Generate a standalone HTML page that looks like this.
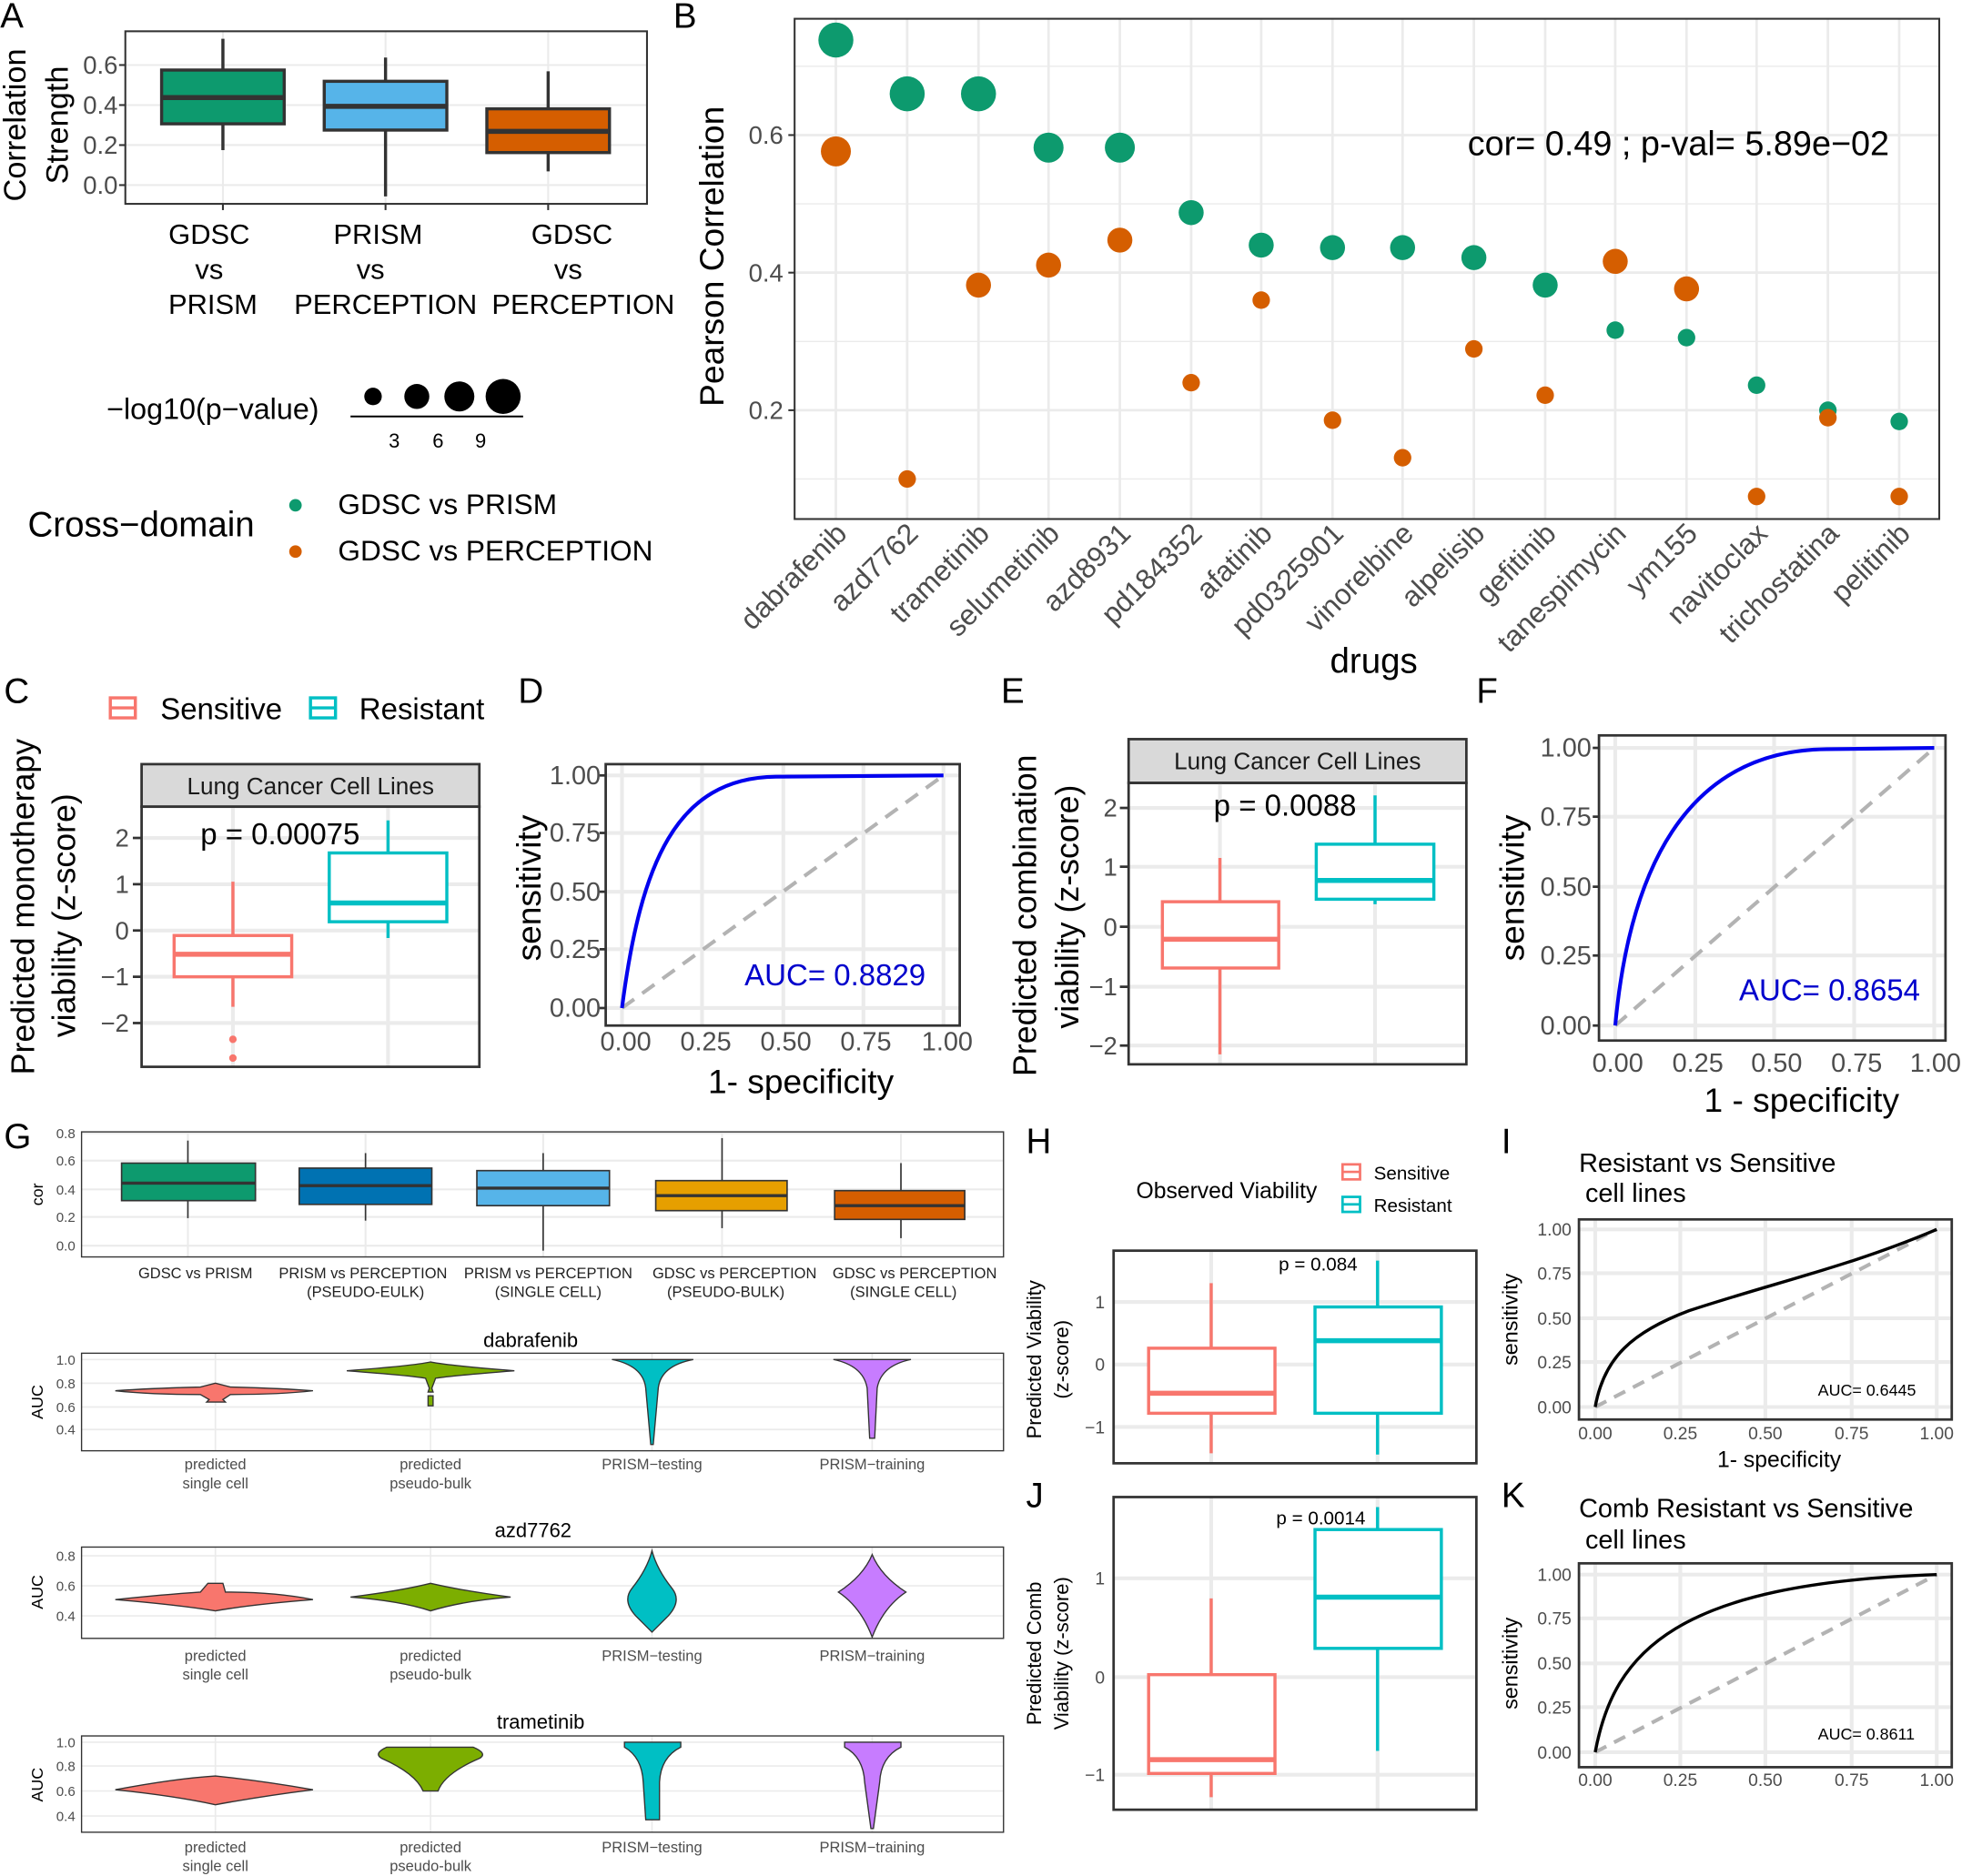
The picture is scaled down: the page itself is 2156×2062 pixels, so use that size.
<!DOCTYPE html>
<html><head><meta charset="utf-8"><style>
html,body{margin:0;padding:0;background:#fff}
svg{display:block}
text{font-family:"Liberation Sans",sans-serif}
</style></head><body>
<svg width="2156" height="2062" viewBox="0 0 1568 1500" xmlns="http://www.w3.org/2000/svg">
<rect width="1568" height="1500" fill="#fff"/>
<!-- Letters -->
<g font-size="28" fill="#000">
<text x="0" y="22">A</text><text x="538" y="22">B</text><text x="3" y="562">C</text><text x="414" y="562">D</text>
<text x="800" y="562">E</text><text x="1180" y="562">F</text><text x="3" y="918">G</text><text x="820" y="922">H</text>
<text x="1200" y="922">I</text><text x="820" y="1205">J</text><text x="1200" y="1205">K</text>
</g>

<!-- Panel A -->
<g stroke="#ebebeb" stroke-width="1.5"><line x1="100" x2="517" y1="52" y2="52"/><line x1="100" x2="517" y1="84" y2="84"/><line x1="100" x2="517" y1="116" y2="116"/><line x1="100" x2="517" y1="148" y2="148"/>
<line x1="178" x2="178" y1="25" y2="163"/><line x1="308" x2="308" y1="25" y2="163"/><line x1="438" x2="438" y1="25" y2="163"/></g>
<g stroke="#333" stroke-width="2.5">
<line x1="178" x2="178" y1="31" y2="120"/><rect x="129" y="56" width="98" height="43" fill="#0D9A6E"/><line x1="129" x2="227" y1="78" y2="78" stroke-width="4"/>
<line x1="308" x2="308" y1="46" y2="157"/><rect x="259" y="65" width="98" height="39" fill="#56B4E9"/><line x1="259" x2="357" y1="85" y2="85" stroke-width="4"/>
<line x1="438" x2="438" y1="57" y2="137"/><rect x="389" y="87" width="98" height="35" fill="#D55E00"/><line x1="389" x2="487" y1="105" y2="105" stroke-width="4"/>
</g>
<rect x="100" y="25" width="417" height="138" fill="none" stroke="#333" stroke-width="1.5"/>
<g stroke="#333" stroke-width="1.5"><line x1="95" x2="100" y1="52" y2="52"/><line x1="95" x2="100" y1="84" y2="84"/><line x1="95" x2="100" y1="116" y2="116"/><line x1="95" x2="100" y1="148" y2="148"/><line x1="178" x2="178" y1="163" y2="168"/><line x1="308" x2="308" y1="163" y2="168"/><line x1="438" x2="438" y1="163" y2="168"/></g>
<g font-size="20" fill="#4d4d4d" text-anchor="end"><text x="94" y="59">0.6</text><text x="94" y="91">0.4</text><text x="94" y="123">0.2</text><text x="94" y="155">0.0</text></g>
<g font-size="22.5" text-anchor="middle"><text x="167" y="195">GDSC</text><text x="167" y="223">vs</text><text x="170" y="251">PRISM</text>
<text x="302" y="195">PRISM</text><text x="296" y="223">vs</text><text x="308" y="251">PERCEPTION</text>
<text x="457" y="195">GDSC</text><text x="454" y="223">vs</text><text x="466" y="251">PERCEPTION</text></g>
<g font-size="25" text-anchor="middle"><text transform="translate(20,100) rotate(-90)">Correlation</text><text transform="translate(54,100) rotate(-90)">Strength</text></g>
<text x="85" y="335" font-size="23.5">−log10(p−value)</text>
<g fill="#000"><circle cx="298" cy="317" r="7"/><circle cx="333" cy="317" r="10"/><circle cx="367" cy="317" r="12"/><circle cx="402" cy="317" r="14"/></g>
<line x1="280" x2="418" y1="333" y2="333" stroke="#000" stroke-width="1.5"/>
<g font-size="16" text-anchor="middle"><text x="315" y="358">3</text><text x="350" y="358">6</text><text x="384" y="358">9</text></g>
<text x="22" y="429" font-size="28">Cross−domain</text>
<circle cx="236" cy="404" r="5" fill="#0D9A6E"/><circle cx="236" cy="441" r="5" fill="#D55E00"/>
<text x="270" y="411" font-size="23">GDSC vs PRISM</text><text x="270" y="448" font-size="23">GDSC vs PERCEPTION</text>

<!-- Panel B -->
<g stroke="#ebebeb" stroke-width="2">
<line x1="635" x2="1550" y1="108" y2="108"/><line x1="635" x2="1550" y1="218" y2="218"/><line x1="635" x2="1550" y1="328" y2="328"/>
<line x1="635" x2="1550" y1="53" y2="53" stroke-width="1"/><line x1="635" x2="1550" y1="163" y2="163" stroke-width="1"/><line x1="635" x2="1550" y1="273" y2="273" stroke-width="1"/><line x1="635" x2="1550" y1="383" y2="383" stroke-width="1"/>
<line x1="668" x2="668" y1="15" y2="415"/><line x1="725" x2="725" y1="15" y2="415"/><line x1="782" x2="782" y1="15" y2="415"/><line x1="838" x2="838" y1="15" y2="415"/><line x1="895" x2="895" y1="15" y2="415"/><line x1="952" x2="952" y1="15" y2="415"/><line x1="1008" x2="1008" y1="15" y2="415"/><line x1="1065" x2="1065" y1="15" y2="415"/><line x1="1121" x2="1121" y1="15" y2="415"/><line x1="1178" x2="1178" y1="15" y2="415"/><line x1="1235" x2="1235" y1="15" y2="415"/><line x1="1291" x2="1291" y1="15" y2="415"/><line x1="1348" x2="1348" y1="15" y2="415"/><line x1="1404" x2="1404" y1="15" y2="415"/><line x1="1461" x2="1461" y1="15" y2="415"/><line x1="1518" x2="1518" y1="15" y2="415"/>
</g>
<rect x="635" y="15" width="915" height="400" fill="none" stroke="#333" stroke-width="1.5"/>
<g stroke="#333" stroke-width="1.5"><line x1="630" x2="635" y1="108" y2="108"/><line x1="630" x2="635" y1="218" y2="218"/><line x1="630" x2="635" y1="328" y2="328"/></g>
<g fill="#0D9A6E">
<circle cx="668" cy="32" r="14"/><circle cx="725" cy="75" r="14"/><circle cx="782" cy="75" r="14"/><circle cx="838" cy="118" r="12"/><circle cx="895" cy="118" r="12"/><circle cx="952" cy="170" r="10"/><circle cx="1008" cy="196" r="10"/><circle cx="1065" cy="198" r="10"/><circle cx="1121" cy="198" r="10"/><circle cx="1178" cy="206" r="10"/><circle cx="1235" cy="228" r="10"/><circle cx="1291" cy="264" r="7"/><circle cx="1348" cy="270" r="7"/><circle cx="1404" cy="308" r="7"/><circle cx="1461" cy="328" r="7"/><circle cx="1518" cy="337" r="7"/></g>
<g fill="#D55E00">
<circle cx="668" cy="121" r="12"/><circle cx="725" cy="383" r="7"/><circle cx="782" cy="228" r="10"/><circle cx="838" cy="212" r="10"/><circle cx="895" cy="192" r="10"/><circle cx="952" cy="306" r="7"/><circle cx="1008" cy="240" r="7"/><circle cx="1065" cy="336" r="7"/><circle cx="1121" cy="366" r="7"/><circle cx="1178" cy="279" r="7"/><circle cx="1235" cy="316" r="7"/><circle cx="1291" cy="209" r="10"/><circle cx="1348" cy="231" r="10"/><circle cx="1404" cy="397" r="7"/><circle cx="1461" cy="334" r="7"/><circle cx="1518" cy="397" r="7"/></g>
<g font-size="20" fill="#4d4d4d" text-anchor="end"><text x="626" y="115">0.6</text><text x="626" y="225">0.4</text><text x="626" y="335">0.2</text></g>
<text x="1173" y="124" font-size="27.5">cor= 0.49 ; p-val= 5.89e−02</text>
<text transform="translate(578,205) rotate(-90)" font-size="27" text-anchor="middle">Pearson Correlation</text>
<g font-size="23" fill="#4d4d4d" text-anchor="end">
<text transform="translate(678,428) rotate(-45)">dabrafenib</text><text transform="translate(735,428) rotate(-45)">azd7762</text><text transform="translate(792,428) rotate(-45)">trametinib</text><text transform="translate(848,428) rotate(-45)">selumetinib</text><text transform="translate(905,428) rotate(-45)">azd8931</text><text transform="translate(962,428) rotate(-45)">pd184352</text><text transform="translate(1018,428) rotate(-45)">afatinib</text><text transform="translate(1075,428) rotate(-45)">pd0325901</text><text transform="translate(1131,428) rotate(-45)">vinorelbine</text><text transform="translate(1188,428) rotate(-45)">alpelisib</text><text transform="translate(1245,428) rotate(-45)">gefitinib</text><text transform="translate(1301,428) rotate(-45)">tanespimycin</text><text transform="translate(1358,428) rotate(-45)">ym155</text><text transform="translate(1414,428) rotate(-45)">navitoclax</text><text transform="translate(1471,428) rotate(-45)">trichostatina</text><text transform="translate(1528,428) rotate(-45)">pelitinib</text></g>
<text x="1098" y="538" font-size="28" text-anchor="middle">drugs</text>

<!-- Panel C -->
<rect x="88" y="558" width="20" height="16" fill="none" stroke="#F8766D" stroke-width="2.5"/><line x1="88" x2="108" y1="566" y2="566" stroke="#F8766D" stroke-width="2.5"/>
<text x="128" y="575" font-size="24">Sensitive</text>
<rect x="248" y="558" width="20" height="16" fill="none" stroke="#00BFC4" stroke-width="2.5"/><line x1="248" x2="268" y1="566" y2="566" stroke="#00BFC4" stroke-width="2.5"/>
<text x="287" y="575" font-size="24">Resistant</text>
<rect x="113" y="611" width="270" height="34" fill="#d9d9d9" stroke="#333" stroke-width="2"/>
<text x="248" y="635" font-size="19" text-anchor="middle" fill="#1a1a1a">Lung Cancer Cell Lines</text>
<g stroke="#ebebeb" stroke-width="3"><line x1="113" x2="383" y1="670" y2="670"/><line x1="113" x2="383" y1="707" y2="707"/><line x1="113" x2="383" y1="744" y2="744"/><line x1="113" x2="383" y1="781" y2="781"/><line x1="113" x2="383" y1="818" y2="818"/><line x1="186" x2="186" y1="645" y2="853"/><line x1="310" x2="310" y1="645" y2="853"/></g>
<g stroke="#F8766D" stroke-width="2.5"><line x1="186" x2="186" y1="705" y2="805"/><rect x="139" y="748" width="94" height="33" fill="#fff"/><line x1="139" x2="233" y1="763" y2="763" stroke-width="4"/></g>
<circle cx="186" cy="831" r="3" fill="#F8766D"/><circle cx="186" cy="846" r="3" fill="#F8766D"/>
<g stroke="#00BFC4" stroke-width="2.5"><line x1="310" x2="310" y1="656" y2="750"/><rect x="263" y="682" width="94" height="55" fill="#fff"/><line x1="263" x2="357" y1="722" y2="722" stroke-width="4"/></g>
<rect x="113" y="645" width="270" height="208" fill="none" stroke="#333" stroke-width="2"/>
<g stroke="#333" stroke-width="2"><line x1="106" x2="113" y1="670" y2="670"/><line x1="106" x2="113" y1="707" y2="707"/><line x1="106" x2="113" y1="744" y2="744"/><line x1="106" x2="113" y1="781" y2="781"/><line x1="106" x2="113" y1="818" y2="818"/></g>
<text x="160" y="675" font-size="24">p = 0.00075</text>
<g font-size="20" fill="#4d4d4d" text-anchor="end"><text x="103" y="677">2</text><text x="103" y="714">1</text><text x="103" y="751">0</text><text x="103" y="788">−1</text><text x="103" y="825">−2</text></g>
<g font-size="26" text-anchor="middle"><text transform="translate(27,725) rotate(-90)">Predicted monotherapy</text><text transform="translate(60,732) rotate(-90)">viability (z-score)</text></g>

<!-- Panel D -->
<g stroke="#ebebeb" stroke-width="3"><line x1="484" x2="767" y1="620" y2="620"/><line x1="484" x2="767" y1="666" y2="666"/><line x1="484" x2="767" y1="713" y2="713"/><line x1="484" x2="767" y1="759" y2="759"/><line x1="484" x2="767" y1="806" y2="806"/>
<line x1="497" x2="497" y1="611" y2="820"/><line x1="561" x2="561" y1="611" y2="820"/><line x1="626" x2="626" y1="611" y2="820"/><line x1="690" x2="690" y1="611" y2="820"/><line x1="754" x2="754" y1="611" y2="820"/></g>
<line x1="497" y1="806" x2="754" y2="620" stroke="#b3b3b3" stroke-width="3" stroke-dasharray="12,8"/>
<path d="M497,806 C512,690 540,622 620,621 L754,620" fill="none" stroke="#0000ee" stroke-width="3"/>
<rect x="484" y="611" width="283" height="209" fill="none" stroke="#333" stroke-width="2"/>
<g stroke="#333" stroke-width="2"><line x1="479" x2="484" y1="620" y2="620"/><line x1="479" x2="484" y1="666" y2="666"/><line x1="479" x2="484" y1="713" y2="713"/><line x1="479" x2="484" y1="759" y2="759"/><line x1="479" x2="484" y1="806" y2="806"/></g>
<text x="595" y="788" font-size="24" fill="#0000cc">AUC= 0.8829</text>
<g font-size="21" fill="#4d4d4d" text-anchor="end"><text x="480" y="627">1.00</text><text x="480" y="673">0.75</text><text x="480" y="720">0.50</text><text x="480" y="766">0.25</text><text x="480" y="813">0.00</text></g>
<g font-size="21" fill="#4d4d4d" text-anchor="middle"><text x="500" y="840">0.00</text><text x="564" y="840">0.25</text><text x="628" y="840">0.50</text><text x="692" y="840">0.75</text><text x="757" y="840">1.00</text></g>
<text x="640" y="874" font-size="27" text-anchor="middle">1- specificity</text>
<text transform="translate(432,710) rotate(-90)" font-size="27" text-anchor="middle">sensitivity</text>

<!-- Panel E -->
<rect x="902" y="591" width="270" height="35" fill="#d9d9d9" stroke="#333" stroke-width="2"/>
<text x="1037" y="615" font-size="19" text-anchor="middle" fill="#1a1a1a">Lung Cancer Cell Lines</text>
<g stroke="#ebebeb" stroke-width="3"><line x1="902" x2="1172" y1="646" y2="646"/><line x1="902" x2="1172" y1="693" y2="693"/><line x1="902" x2="1172" y1="741" y2="741"/><line x1="902" x2="1172" y1="789" y2="789"/><line x1="902" x2="1172" y1="836" y2="836"/><line x1="975" x2="975" y1="626" y2="851"/><line x1="1099" x2="1099" y1="626" y2="851"/></g>
<g stroke="#F8766D" stroke-width="2.5"><line x1="975" x2="975" y1="686" y2="843"/><rect x="929" y="721" width="93" height="53" fill="#fff"/><line x1="929" x2="1022" y1="751" y2="751" stroke-width="4"/></g>
<g stroke="#00BFC4" stroke-width="2.5"><line x1="1099" x2="1099" y1="636" y2="723"/><rect x="1052" y="675" width="94" height="44" fill="#fff"/><line x1="1052" x2="1146" y1="704" y2="704" stroke-width="4"/></g>
<rect x="902" y="626" width="270" height="225" fill="none" stroke="#333" stroke-width="2"/>
<g stroke="#333" stroke-width="2"><line x1="895" x2="902" y1="646" y2="646"/><line x1="895" x2="902" y1="693" y2="693"/><line x1="895" x2="902" y1="741" y2="741"/><line x1="895" x2="902" y1="789" y2="789"/><line x1="895" x2="902" y1="836" y2="836"/></g>
<text x="970" y="652" font-size="24">p = 0.0088</text>
<g font-size="20" fill="#4d4d4d" text-anchor="end"><text x="893" y="653">2</text><text x="893" y="700">1</text><text x="893" y="748">0</text><text x="893" y="796">−1</text><text x="893" y="843">−2</text></g>
<g font-size="26" text-anchor="middle"><text transform="translate(828,732) rotate(-90)">Predicted combination</text><text transform="translate(862,725) rotate(-90)">viability (z-score)</text></g>

<!-- Panel F -->
<g stroke="#ebebeb" stroke-width="3"><line x1="1278" x2="1555" y1="598" y2="598"/><line x1="1278" x2="1555" y1="653" y2="653"/><line x1="1278" x2="1555" y1="709" y2="709"/><line x1="1278" x2="1555" y1="764" y2="764"/><line x1="1278" x2="1555" y1="820" y2="820"/>
<line x1="1291" x2="1291" y1="588" y2="832"/><line x1="1355" x2="1355" y1="588" y2="832"/><line x1="1418" x2="1418" y1="588" y2="832"/><line x1="1482" x2="1482" y1="588" y2="832"/><line x1="1546" x2="1546" y1="588" y2="832"/></g>
<line x1="1291" y1="820" x2="1546" y2="598" stroke="#b3b3b3" stroke-width="3" stroke-dasharray="12,8"/>
<path d="M1291,820 C1302,700 1345,600 1460,599 L1546,598" fill="none" stroke="#0000ee" stroke-width="3"/>
<rect x="1278" y="588" width="277" height="244" fill="none" stroke="#333" stroke-width="2"/>
<g stroke="#333" stroke-width="2"><line x1="1273" x2="1278" y1="598" y2="598"/><line x1="1273" x2="1278" y1="653" y2="653"/><line x1="1273" x2="1278" y1="709" y2="709"/><line x1="1273" x2="1278" y1="764" y2="764"/><line x1="1273" x2="1278" y1="820" y2="820"/></g>
<text x="1390" y="800" font-size="24" fill="#0000cc">AUC= 0.8654</text>
<g font-size="21" fill="#4d4d4d" text-anchor="end"><text x="1272" y="605">1.00</text><text x="1272" y="660">0.75</text><text x="1272" y="716">0.50</text><text x="1272" y="771">0.25</text><text x="1272" y="827">0.00</text></g>
<g font-size="21" fill="#4d4d4d" text-anchor="middle"><text x="1293" y="857">0.00</text><text x="1357" y="857">0.25</text><text x="1420" y="857">0.50</text><text x="1484" y="857">0.75</text><text x="1547" y="857">1.00</text></g>
<text x="1440" y="889" font-size="27" text-anchor="middle">1 - specificity</text>
<text transform="translate(1218,710) rotate(-90)" font-size="27" text-anchor="middle">sensitivity</text>

<!-- Panel G top -->
<g stroke="#ebebeb" stroke-width="1.5"><line x1="65" x2="802" y1="906" y2="906"/><line x1="65" x2="802" y1="928" y2="928"/><line x1="65" x2="802" y1="951" y2="951"/><line x1="65" x2="802" y1="973" y2="973"/><line x1="65" x2="802" y1="996" y2="996"/>
<line x1="150" x2="150" y1="905" y2="1005"/><line x1="292" x2="292" y1="905" y2="1005"/><line x1="434" x2="434" y1="905" y2="1005"/><line x1="577" x2="577" y1="905" y2="1005"/><line x1="720" x2="720" y1="905" y2="1005"/></g>
<g stroke="#333" stroke-width="1.2">
<line x1="150" x2="150" y1="912" y2="974"/><rect x="97" y="930" width="107" height="30" fill="#0D9A6E"/><line x1="97" x2="204" y1="946" y2="946" stroke-width="2.5"/>
<line x1="292" x2="292" y1="922" y2="976"/><rect x="239" y="934" width="106" height="29" fill="#0072B2"/><line x1="239" x2="345" y1="948" y2="948" stroke-width="2.5"/>
<line x1="434" x2="434" y1="922" y2="1000"/><rect x="381" y="936" width="106" height="28" fill="#56B4E9"/><line x1="381" x2="487" y1="950" y2="950" stroke-width="2.5"/>
<line x1="577" x2="577" y1="910" y2="982"/><rect x="524" y="944" width="105" height="24" fill="#E69F00"/><line x1="524" x2="629" y1="956" y2="956" stroke-width="2.5"/>
<line x1="720" x2="720" y1="930" y2="990"/><rect x="667" y="952" width="104" height="23" fill="#D55E00"/><line x1="667" x2="771" y1="964" y2="964" stroke-width="2.5"/></g>
<rect x="65" y="905" width="737" height="100" fill="none" stroke="#333" stroke-width="1"/>
<g font-size="11" fill="#4d4d4d" text-anchor="end"><text x="60" y="910">0.8</text><text x="60" y="932">0.6</text><text x="60" y="955">0.4</text><text x="60" y="977">0.2</text><text x="60" y="1000">0.0</text></g>
<text transform="translate(34,955) rotate(-90)" font-size="13" text-anchor="middle">cor</text>
<g font-size="12" text-anchor="middle" fill="#222"><text x="156" y="1022">GDSC vs PRISM</text>
<text x="290" y="1022">PRISM vs PERCEPTION</text><text x="292" y="1037">(PSEUDO-EULK)</text>
<text x="438" y="1022">PRISM vs PERCEPTION</text><text x="438" y="1037">(SINGLE CELL)</text>
<text x="587" y="1022">GDSC vs PERCEPTION</text><text x="580" y="1037">(PSEUDO-BULK)</text>
<text x="731" y="1022">GDSC vs PERCEPTION</text><text x="722" y="1037">(SINGLE CELL)</text></g>

<!-- Violin: dabrafenib -->
<text x="424" y="1077" font-size="16" text-anchor="middle">dabrafenib</text>
<g stroke="#ebebeb" stroke-width="1.2"><line x1="65" x2="802" y1="1087" y2="1087"/><line x1="65" x2="802" y1="1106" y2="1106"/><line x1="65" x2="802" y1="1125" y2="1125"/><line x1="65" x2="802" y1="1143" y2="1143"/><line x1="172" x2="172" y1="1082" y2="1160"/><line x1="344" x2="344" y1="1082" y2="1160"/><line x1="521" x2="521" y1="1082" y2="1160"/><line x1="697" x2="697" y1="1082" y2="1160"/></g>
<g stroke="#333" stroke-width="1">
<path d="M92,1112 Q120,1110 160,1109 L172,1106 L184,1109 Q224,1110 250,1112 Q224,1115 184,1115 L178,1119 L180,1121 L165,1121 L167,1119 L160,1115 Q120,1115 92,1112Z" fill="#F8766D"/>
<path d="M277,1096 Q330,1092 344,1089 Q360,1092 411,1096 Q360,1100 348,1102 L345,1110 L346,1113 L342,1113 L343,1110 L340,1102 Q330,1100 277,1096Z" fill="#7CAE00"/>
<path d="M342,1116 L346,1116 L346,1124 L342,1124Z" fill="#7CAE00"/>
<path d="M489,1087 L554,1087 Q528,1092 526,1110 L522,1155 L520,1155 L516,1110 Q514,1092 489,1087Z" fill="#00BFC4"/>
<path d="M666,1087 L728,1087 Q704,1092 701,1110 L699,1150 L695,1150 L693,1110 Q690,1092 666,1087Z" fill="#C77CFF"/></g>
<rect x="65" y="1082" width="737" height="78" fill="none" stroke="#333" stroke-width="1"/>
<g font-size="11" fill="#4d4d4d" text-anchor="end"><text x="60" y="1091">1.0</text><text x="60" y="1110">0.8</text><text x="60" y="1129">0.6</text><text x="60" y="1147">0.4</text></g>
<text transform="translate(34,1121) rotate(-90)" font-size="13" text-anchor="middle">AUC</text>
<g font-size="12" fill="#4d4d4d" text-anchor="middle"><text x="172" y="1175">predicted</text><text x="172" y="1190">single cell</text><text x="344" y="1175">predicted</text><text x="344" y="1190">pseudo-bulk</text><text x="521" y="1175">PRISM−testing</text><text x="697" y="1175">PRISM−training</text></g>

<!-- Violin: azd7762 -->
<text x="426" y="1229" font-size="16" text-anchor="middle">azd7762</text>
<g stroke="#ebebeb" stroke-width="1.2"><line x1="65" x2="802" y1="1244" y2="1244"/><line x1="65" x2="802" y1="1268" y2="1268"/><line x1="65" x2="802" y1="1292" y2="1292"/><line x1="172" x2="172" y1="1237" y2="1310"/><line x1="344" x2="344" y1="1237" y2="1310"/><line x1="521" x2="521" y1="1237" y2="1310"/><line x1="697" x2="697" y1="1237" y2="1310"/></g>
<g stroke="#333" stroke-width="1">
<path d="M92,1279 Q130,1275 160,1273 L166,1266 L178,1266 L180,1273 Q220,1273 250,1279 Q200,1283 172,1288 Q140,1283 92,1279Z" fill="#F8766D"/>
<path d="M280,1277 Q320,1272 344,1266 Q370,1272 408,1277 Q370,1280 344,1288 Q320,1280 280,1277Z" fill="#7CAE00"/>
<path d="M521,1240 Q517,1255 505,1270 Q497,1280 508,1292 Q516,1300 521,1305 Q526,1300 534,1292 Q545,1280 537,1270 Q525,1255 521,1240Z" fill="#00BFC4"/>
<path d="M697,1243 Q690,1260 670,1273 Q688,1285 697,1309 Q706,1285 724,1273 Q704,1260 697,1243Z" fill="#C77CFF"/></g>
<rect x="65" y="1237" width="737" height="73" fill="none" stroke="#333" stroke-width="1"/>
<g font-size="11" fill="#4d4d4d" text-anchor="end"><text x="60" y="1248">0.8</text><text x="60" y="1272">0.6</text><text x="60" y="1296">0.4</text></g>
<text transform="translate(34,1273) rotate(-90)" font-size="13" text-anchor="middle">AUC</text>
<g font-size="12" fill="#4d4d4d" text-anchor="middle"><text x="172" y="1328">predicted</text><text x="172" y="1343">single cell</text><text x="344" y="1328">predicted</text><text x="344" y="1343">pseudo-bulk</text><text x="521" y="1328">PRISM−testing</text><text x="697" y="1328">PRISM−training</text></g>

<!-- Violin: trametinib -->
<text x="432" y="1382" font-size="16" text-anchor="middle">trametinib</text>
<g stroke="#ebebeb" stroke-width="1.2"><line x1="65" x2="802" y1="1393" y2="1393"/><line x1="65" x2="802" y1="1412" y2="1412"/><line x1="65" x2="802" y1="1432" y2="1432"/><line x1="65" x2="802" y1="1452" y2="1452"/><line x1="172" x2="172" y1="1388" y2="1465"/><line x1="344" x2="344" y1="1388" y2="1465"/><line x1="521" x2="521" y1="1388" y2="1465"/><line x1="697" x2="697" y1="1388" y2="1465"/></g>
<g stroke="#333" stroke-width="1">
<path d="M92,1431 Q140,1422 172,1420 Q210,1424 250,1431 Q210,1436 172,1443 Q140,1436 92,1431Z" fill="#F8766D"/>
<path d="M309,1397 L378,1397 Q390,1402 383,1406 Q355,1418 350,1432 L338,1432 Q332,1418 305,1406 Q298,1402 309,1397Z" fill="#7CAE00"/>
<path d="M499,1393 L544,1393 L544,1397 Q528,1405 527,1425 L527,1455 L516,1455 L514,1425 Q513,1405 499,1397Z" fill="#00BFC4"/>
<path d="M675,1393 L720,1393 L720,1397 Q704,1405 703,1425 L698,1462 L696,1462 L691,1425 Q690,1405 675,1397Z" fill="#C77CFF"/></g>
<rect x="65" y="1388" width="737" height="77" fill="none" stroke="#333" stroke-width="1"/>
<g font-size="11" fill="#4d4d4d" text-anchor="end"><text x="60" y="1397">1.0</text><text x="60" y="1416">0.8</text><text x="60" y="1436">0.6</text><text x="60" y="1456">0.4</text></g>
<text transform="translate(34,1427) rotate(-90)" font-size="13" text-anchor="middle">AUC</text>
<g font-size="12" fill="#4d4d4d" text-anchor="middle"><text x="172" y="1481">predicted</text><text x="172" y="1496">single cell</text><text x="344" y="1481">predicted</text><text x="344" y="1496">pseudo-bulk</text><text x="521" y="1481">PRISM−testing</text><text x="697" y="1481">PRISM−training</text></g>

<!-- Panel H -->
<text x="908" y="958" font-size="18">Observed Viability</text>
<rect x="1073" y="931" width="14" height="12" fill="none" stroke="#F8766D" stroke-width="2"/><line x1="1073" x2="1087" y1="937" y2="937" stroke="#F8766D" stroke-width="2"/>
<rect x="1073" y="957" width="14" height="12" fill="none" stroke="#00BFC4" stroke-width="2"/><line x1="1073" x2="1087" y1="963" y2="963" stroke="#00BFC4" stroke-width="2"/>
<text x="1098" y="943" font-size="15">Sensitive</text><text x="1098" y="969" font-size="15">Resistant</text>
<g stroke="#ebebeb" stroke-width="3"><line x1="890" x2="1180" y1="1041" y2="1041"/><line x1="890" x2="1180" y1="1091" y2="1091"/><line x1="890" x2="1180" y1="1141" y2="1141"/><line x1="968" x2="968" y1="1000" y2="1170"/><line x1="1101" x2="1101" y1="1000" y2="1170"/></g>
<g stroke="#F8766D" stroke-width="2.5"><line x1="968" x2="968" y1="1026" y2="1162"/><rect x="918" y="1078" width="101" height="52" fill="#fff"/><line x1="918" x2="1019" y1="1114" y2="1114" stroke-width="4"/></g>
<g stroke="#00BFC4" stroke-width="2.5"><line x1="1101" x2="1101" y1="1008" y2="1163"/><rect x="1051" y="1045" width="101" height="85" fill="#fff"/><line x1="1051" x2="1152" y1="1072" y2="1072" stroke-width="4"/></g>
<rect x="890" y="1000" width="290" height="170" fill="none" stroke="#333" stroke-width="2"/>
<text x="1022" y="1016" font-size="15">p = 0.084</text>
<g font-size="14" fill="#4d4d4d" text-anchor="end"><text x="883" y="1046">1</text><text x="883" y="1096">0</text><text x="883" y="1146">−1</text></g>
<g font-size="16" text-anchor="middle"><text transform="translate(832,1087) rotate(-90)">Predicted Viability</text><text transform="translate(854,1087) rotate(-90)">(z-score)</text></g>

<!-- Panel J -->
<g stroke="#ebebeb" stroke-width="3"><line x1="890" x2="1180" y1="1262" y2="1262"/><line x1="890" x2="1180" y1="1341" y2="1341"/><line x1="890" x2="1180" y1="1419" y2="1419"/><line x1="968" x2="968" y1="1197" y2="1447"/><line x1="1101" x2="1101" y1="1197" y2="1447"/></g>
<g stroke="#F8766D" stroke-width="2.5"><line x1="968" x2="968" y1="1278" y2="1437"/><rect x="918" y="1339" width="101" height="79" fill="#fff"/><line x1="918" x2="1019" y1="1407" y2="1407" stroke-width="4"/></g>
<g stroke="#00BFC4" stroke-width="2.5"><line x1="1101" x2="1101" y1="1205" y2="1400"/><rect x="1051" y="1223" width="101" height="95" fill="#fff"/><line x1="1051" x2="1152" y1="1277" y2="1277" stroke-width="4"/></g>
<rect x="890" y="1197" width="290" height="250" fill="none" stroke="#333" stroke-width="2"/>
<text x="1020" y="1219" font-size="15">p = 0.0014</text>
<g font-size="14" fill="#4d4d4d" text-anchor="end"><text x="883" y="1267">1</text><text x="883" y="1346">0</text><text x="883" y="1424">−1</text></g>
<g font-size="16" text-anchor="middle"><text transform="translate(832,1322) rotate(-90)">Predicted Comb</text><text transform="translate(854,1322) rotate(-90)">Viability (z-score)</text></g>

<!-- Panel I -->
<text x="1262" y="937" font-size="21">Resistant vs Sensitive</text><text x="1267" y="961" font-size="21">cell lines</text>
<g stroke="#ebebeb" stroke-width="3"><line x1="1262" x2="1560" y1="983" y2="983"/><line x1="1262" x2="1560" y1="1018" y2="1018"/><line x1="1262" x2="1560" y1="1054" y2="1054"/><line x1="1262" x2="1560" y1="1089" y2="1089"/><line x1="1262" x2="1560" y1="1125" y2="1125"/>
<line x1="1275" x2="1275" y1="975" y2="1135"/><line x1="1343" x2="1343" y1="975" y2="1135"/><line x1="1411" x2="1411" y1="975" y2="1135"/><line x1="1480" x2="1480" y1="975" y2="1135"/><line x1="1548" x2="1548" y1="975" y2="1135"/></g>
<line x1="1275" y1="1125" x2="1548" y2="983" stroke="#b3b3b3" stroke-width="3" stroke-dasharray="10,7"/>
<path d="M1275,1125 C1282,1085 1305,1065 1350,1048 C1420,1025 1480,1012 1548,983" fill="none" stroke="#000" stroke-width="2.5"/>
<rect x="1262" y="975" width="298" height="160" fill="none" stroke="#333" stroke-width="2"/>
<text x="1453" y="1116" font-size="13">AUC= 0.6445</text>
<g font-size="14" fill="#4d4d4d" text-anchor="end"><text x="1256" y="988">1.00</text><text x="1256" y="1023">0.75</text><text x="1256" y="1059">0.50</text><text x="1256" y="1094">0.25</text><text x="1256" y="1130">0.00</text></g>
<g font-size="14" fill="#4d4d4d" text-anchor="middle"><text x="1275" y="1151">0.00</text><text x="1343" y="1151">0.25</text><text x="1411" y="1151">0.50</text><text x="1480" y="1151">0.75</text><text x="1548" y="1151">1.00</text></g>
<text x="1422" y="1173" font-size="18" text-anchor="middle">1- specificity</text>
<text transform="translate(1213,1055) rotate(-90)" font-size="17" text-anchor="middle">sensitivity</text>

<!-- Panel K -->
<text x="1262" y="1213" font-size="21">Comb Resistant vs Sensitive</text><text x="1267" y="1238" font-size="21">cell lines</text>
<g stroke="#ebebeb" stroke-width="3"><line x1="1262" x2="1560" y1="1259" y2="1259"/><line x1="1262" x2="1560" y1="1294" y2="1294"/><line x1="1262" x2="1560" y1="1330" y2="1330"/><line x1="1262" x2="1560" y1="1365" y2="1365"/><line x1="1262" x2="1560" y1="1401" y2="1401"/>
<line x1="1275" x2="1275" y1="1250" y2="1413"/><line x1="1343" x2="1343" y1="1250" y2="1413"/><line x1="1411" x2="1411" y1="1250" y2="1413"/><line x1="1480" x2="1480" y1="1250" y2="1413"/><line x1="1548" x2="1548" y1="1250" y2="1413"/></g>
<line x1="1275" y1="1401" x2="1548" y2="1259" stroke="#b3b3b3" stroke-width="3" stroke-dasharray="10,7"/>
<path d="M1275,1401 C1290,1320 1340,1266 1548,1259" fill="none" stroke="#000" stroke-width="2.5"/>
<rect x="1262" y="1250" width="298" height="163" fill="none" stroke="#333" stroke-width="2"/>
<text x="1453" y="1391" font-size="13">AUC= 0.8611</text>
<g font-size="14" fill="#4d4d4d" text-anchor="end"><text x="1256" y="1264">1.00</text><text x="1256" y="1299">0.75</text><text x="1256" y="1335">0.50</text><text x="1256" y="1370">0.25</text><text x="1256" y="1406">0.00</text></g>
<g font-size="14" fill="#4d4d4d" text-anchor="middle"><text x="1275" y="1428">0.00</text><text x="1343" y="1428">0.25</text><text x="1411" y="1428">0.50</text><text x="1480" y="1428">0.75</text><text x="1548" y="1428">1.00</text></g>
<text transform="translate(1213,1330) rotate(-90)" font-size="17" text-anchor="middle">sensitivity</text>
</svg>
</body></html>
